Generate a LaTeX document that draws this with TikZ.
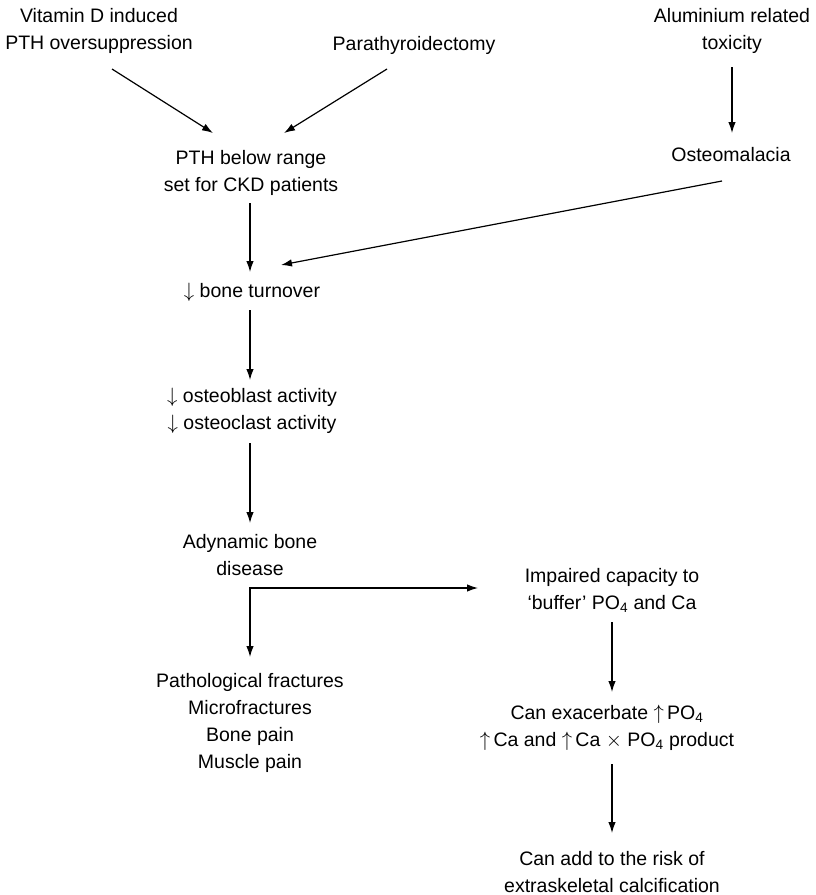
\documentclass[tikz,border=0pt]{standalone}
\usepackage{fontspec}
\setmainfont{Liberation Sans}
\usetikzlibrary{arrows.meta}
\tikzset{
  lbl/.style={align=center, inner sep=0pt, font=\fontsize{19.5}{27}\selectfont},
  arr/.style={-{Latex[length=11pt,width=7.5pt]}, line width=1.2pt},
}
\begin{document}
\begin{tikzpicture}[x=1pt,y=-1pt]
  \useasboundingbox (0,0) rectangle (816,895);

  % causes
  \node[lbl] (vit)  at (99,31)  {Vitamin D induced\\PTH oversuppression};
  \node[lbl] (para) at (414,45) {Parathyroidectomy};
  \node[lbl] (alu)  at (732,31) {Aluminium related\\toxicity};
  \node[lbl] (osteo) at (731,155) {Osteomalacia};

  % main column
  \node[lbl] (pth)   at (251,173) {PTH below range\\set for CKD patients};
  \node[lbl] (bone)  at (252,292) {$\downarrow$ bone turnover};
  \node[lbl] (blast) at (252,411) {$\downarrow$ osteoblast activity\\$\downarrow$ osteoclast activity};
  \node[lbl] (ady)   at (250,555) {Adynamic bone\\disease};
  \node[lbl] (path)  at (250,723) {Pathological fractures\\Microfractures\\Bone pain\\Muscle pain};

  % right column
  \node[lbl] (imp)  at (612,590) {Impaired capacity to\\‘buffer’ PO\textsubscript{4} and Ca};
  \node[lbl] (exac) at (607,728) {Can exacerbate $\uparrow$\,PO\textsubscript{4}\\$\uparrow$\,Ca and $\uparrow$\,Ca $\times$ PO\textsubscript{4} product};
  \node[lbl] (add)  at (612,872) {Can add to the risk of\\extraskeletal calcification};

  % connectors
  \draw[arr] ([shift={(13,38)}]vit.center) -- ([shift={(-38,-40)}]pth.center);
  \draw[arr] ([shift={(-27,24)}]para.center) -- ([shift={(33,-40)}]pth.center);
  \draw[arr] ([shift={(0,36)}]alu.center) -- ([shift={(1,-22)}]osteo.center);
  \draw[arr] ([shift={(-9,26)}]osteo.center) -- ([shift={(29,-27)}]bone.center);
  \draw[arr] ([shift={(-1,30)}]pth.center) -- ([shift={(-2,-20)}]bone.center);
  \draw[arr] ([shift={(-2,18)}]bone.center) -- ([shift={(-2,-31)}]blast.center);
  \draw[arr] ([shift={(-2,32)}]blast.center) -- ([shift={(0,-32)}]ady.center);
  \coordinate (split) at ([shift={(0,33)}]ady.center);
  \draw[line width=1.2pt] ([shift={(0,-0.6)}]split) -- (split);
  \draw[arr] ([shift={(-0.6,0)}]split) -- ([shift={(-134,-2)}]imp.center);
  \draw[arr] (split) -- ([shift={(0,-66)}]path.center);
  \draw[arr] ([shift={(0,32)}]imp.center) -- ([shift={(5,-36)}]exac.center);
  \draw[arr] ([shift={(5,36)}]exac.center) -- ([shift={(0,-39)}]add.center);
\end{tikzpicture}
\end{document}
